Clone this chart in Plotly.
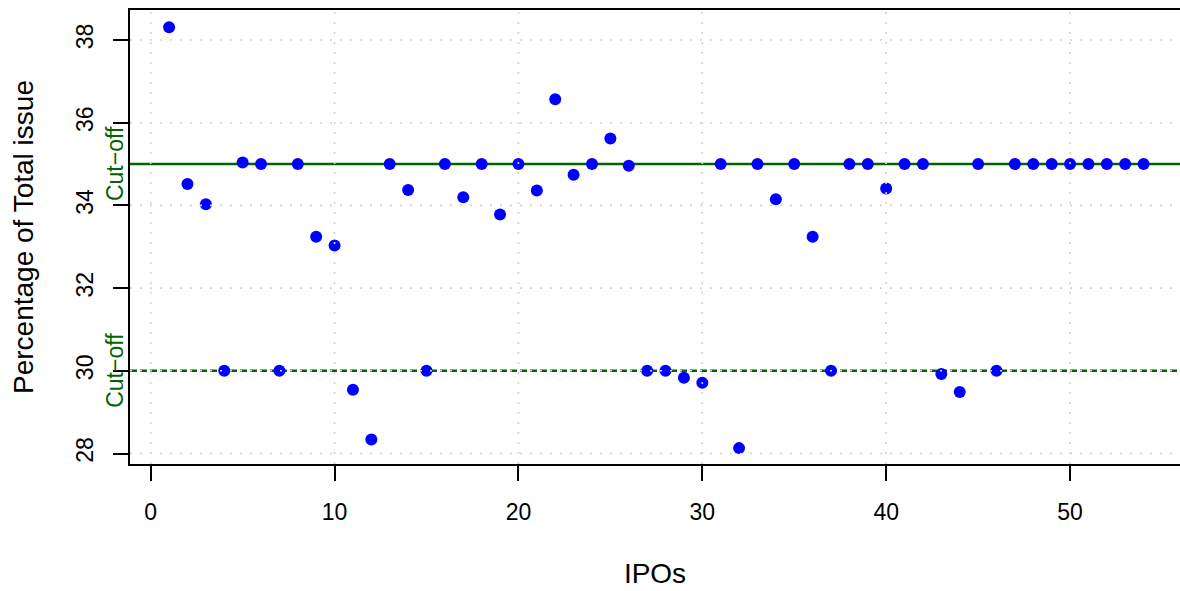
import plotly.graph_objects as go

# ---- data ----
ipo_index = list(range(1, 55))
pct_total_issue = [38.31, 34.52, 34.03, 30.0, 35.04, 35.0, 30.0, 35.0, 33.24, 33.03,
                   29.54, 28.34, 35.0, 34.37, 30.0, 35.0, 34.2, 35.0, 33.78, 35.0,
                   34.36, 36.57, 34.74, 35.0, 35.62, 34.96, 30.0, 30.0, 29.83, 29.71,
                   35.0, 28.13, 35.0, 34.15, 35.0, 33.24, 30.0, 35.0, 35.0, 34.41,
                   35.0, 35.0, 29.92, 29.49, 35.0, 30.0, 35.0, 35.0, 35.0, 35.0,
                   35.0, 35.0, 35.0, 35.0]
cutoffs = [35, 30]
cutoff_dash = ["solid", "7px,3px"]
cutoff_label = "Cut\u2212off"
x_ticks = [0, 10, 20, 30, 40, 50]
y_ticks = [28, 30, 32, 34, 36, 38]
x_title = "IPOs"
y_title = "Percentage of Total issue"

FONT = "Liberation Sans, Arial, Helvetica, sans-serif"
GREEN = "#006400"

fig = go.Figure()
fig.add_trace(go.Scatter(
    x=ipo_index, y=pct_total_issue, mode="markers",
    marker=dict(color="#0000FF", size=12, line=dict(width=0)),
    showlegend=False, hoverinfo="x+y"))

shapes = []
# cut-off lines (below the points)
for v, d in zip(cutoffs, cutoff_dash):
    shapes.append(dict(type="line", xref="paper", x0=0, x1=1, yref="y", y0=v, y1=v,
                       line=dict(color=GREEN, width=2.5, dash=d), layer="below"))
# dotted grid drawn over everything (as R's grid() after points)
for xv in x_ticks:
    shapes.append(dict(type="line", xref="x", x0=xv, x1=xv, yref="paper", y0=0, y1=1,
                       line=dict(color="#D3D3D3", width=1.6, dash="2px,8px"), layer="above"))
for yv in y_ticks:
    shapes.append(dict(type="line", yref="y", y0=yv, y1=yv, xref="paper", x0=0, x1=1,
                       line=dict(color="#D3D3D3", width=1.6, dash="2px,8px"), layer="above"))

annotations = []
for v in cutoffs:
    annotations.append(dict(text=cutoff_label, xref="paper", x=0, xshift=-15, xanchor="center",
                            yref="y", y=v, yanchor="middle", textangle=-90, showarrow=False,
                            font=dict(family=FONT, size=23, color=GREEN)))

fig.update_layout(
    width=1180, height=591,
    margin=dict(l=130, r=0, t=10, b=127, autoexpand=False),
    paper_bgcolor="white", plot_bgcolor="white",
    font=dict(family=FONT, size=23, color="black"),
    shapes=shapes, annotations=annotations,
    xaxis=dict(range=[-1.126, 55.98], tickmode="array", tickvals=x_ticks,
               showgrid=False, zeroline=False, showline=True, mirror=True,
               linecolor="black", linewidth=2, ticks="outside", ticklen=15,
               tickwidth=2, tickcolor="black", ticklabelstandoff=11,
               title=dict(text=x_title, standoff=40)),
    yaxis=dict(range=[-0 + 27.746, 38.726], tickmode="array", tickvals=y_ticks,
               showgrid=False, zeroline=False, showline=True, mirror=False,
               linecolor="black", linewidth=2, ticks="outside", ticklen=15,
               tickwidth=2, tickcolor="black", tickangle=-90, ticklabelstandoff=11,
               title=dict(text=y_title, standoff=30)),
)

fig.write_html("out.html")
